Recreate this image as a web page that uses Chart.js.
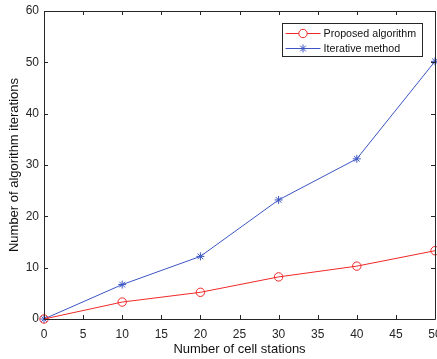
<!DOCTYPE html>
<html>
<head>
<meta charset="utf-8">
<script src="https://cdn.jsdelivr.net/npm/chart.js@4.4.0/dist/chart.umd.min.js"></script>
<style>
html,body{margin:0;padding:0;background:#fff;}
#wrap{width:437px;height:359px;position:relative;}
</style>
</head>
<body>
<div id="wrap"><canvas id="c" width="437" height="359"></canvas></div>
<script>
const stations = [0, 10, 20, 30, 40, 50];
const proposed = [0, 3.3, 5.2, 8.2, 10.3, 13.3];
const iterative = [0, 6.7, 12.2, 23.2, 31.2, 50.2];
const seriesNames = ['Proposed algorithm', 'Iterative method'];
const xTitle = 'Number of cell stations';
const yTitle = 'Number of algorithm iterations';

const RED = 'rgb(240,40,40)';
const BLUE = 'rgb(60,85,195)';
const FONT = '"Liberation Sans", Arial, Helvetica, sans-serif';

const boxPlugin = {
  id: 'boxTicks',
  afterDatasetsDraw(chart) {
    const {ctx, chartArea: a, scales} = chart;
    ctx.save();
    ctx.strokeStyle = '#262626';
    ctx.lineWidth = 1;
    ctx.beginPath();
    ctx.rect(Math.round(a.left) + 0.5, Math.round(a.top) + 0.5, Math.round(a.right - a.left), Math.round(a.bottom - a.top));
    ctx.stroke();
    const L = 4;
    ctx.beginPath();
    scales.x.ticks.forEach(t => {
      const px = Math.round(scales.x.getPixelForValue(t.value)) + 0.5;
      ctx.moveTo(px, a.bottom); ctx.lineTo(px, a.bottom - L);
      ctx.moveTo(px, a.top); ctx.lineTo(px, a.top + L);
    });
    scales.y.ticks.forEach(t => {
      const py = Math.round(scales.y.getPixelForValue(t.value)) + 0.5;
      ctx.moveTo(a.left, py); ctx.lineTo(a.left + L, py);
      ctx.moveTo(a.right, py); ctx.lineTo(a.right - L, py);
    });
    ctx.stroke();
    ctx.restore();
  },
  afterDraw(chart) {
    const {ctx} = chart;
    const x0 = 282.5, y0 = 23.5, w = 140, h = 33;
    ctx.save();
    ctx.fillStyle = '#fff';
    ctx.fillRect(x0, y0, w, h);
    ctx.strokeStyle = '#262626';
    ctx.lineWidth = 1;
    ctx.strokeRect(x0, y0, w, h);
    ctx.font = '10.7px ' + FONT;
    ctx.textBaseline = 'middle';
    chart.data.datasets.forEach((ds, i) => {
      const yy = y0 + 10 + i * 15;
      ctx.strokeStyle = ds.borderColor;
      ctx.lineWidth = 1;
      ctx.beginPath();
      ctx.moveTo(x0 + 3, yy); ctx.lineTo(x0 + 38, yy);
      ctx.stroke();
      Chart.helpers.drawPoint(ctx, {pointStyle: ds.pointStyle, radius: ds.pointRadius, borderWidth: 1, rotation: 0}, x0 + 20.5, yy);
      ctx.fillStyle = '#111';
      ctx.fillText(ds.label, x0 + 41, yy + 0.5);
    });
    ctx.restore();
  }
};

new Chart(document.getElementById('c'), {
  type: 'line',
  data: {
    datasets: [
      {
        label: seriesNames[0],
        data: stations.map((s, i) => ({x: s, y: proposed[i]})),
        borderColor: RED, backgroundColor: 'rgba(0,0,0,0)',
        pointBorderColor: RED, pointBackgroundColor: 'rgba(0,0,0,0)',
        borderWidth: 1, pointStyle: 'circle', pointRadius: 4.2, pointBorderWidth: 1,
        tension: 0, clip: false
      },
      {
        label: seriesNames[1],
        data: stations.map((s, i) => ({x: s, y: iterative[i]})),
        borderColor: BLUE, backgroundColor: BLUE,
        pointBorderColor: BLUE, pointBackgroundColor: BLUE,
        borderWidth: 1, pointStyle: 'star', pointRadius: 4, pointBorderWidth: 1,
        tension: 0, clip: false
      }
    ]
  },
  options: {
    responsive: false,
    animation: false,
    layout: {autoPadding: false, padding: {top: 11, right: 2, left: 0, bottom: 0}},
    plugins: {legend: {display: false}, tooltip: {enabled: false}},
    scales: {
      x: {
        type: 'linear', min: 0, max: 50,
        ticks: {stepSize: 5, padding: 8, color: '#262626', font: {family: FONT, size: 12}, maxRotation: 0, autoSkip: false},
        grid: {display: false, drawTicks: false},
        border: {display: false},
        title: {display: true, text: xTitle, color: '#111', font: {family: FONT, size: 13}, padding: {top: 1, bottom: 2}},
        afterFit(s) { s.height = 40; s.paddingLeft = 0; s.paddingRight = 0; }
      },
      y: {
        type: 'linear', min: 0, max: 60,
        ticks: {stepSize: 10, padding: 5, color: '#262626', font: {family: FONT, size: 12}},
        grid: {display: false, drawTicks: false},
        border: {display: false},
        title: {display: true, text: yTitle, color: '#111', font: {family: FONT, size: 13}, padding: {top: 7, bottom: 0}},
        afterFit(s) { s.width = 44; s.paddingTop = 0; s.paddingBottom = 0; }
      }
    }
  },
  plugins: [boxPlugin]
});
</script>
</body>
</html>
